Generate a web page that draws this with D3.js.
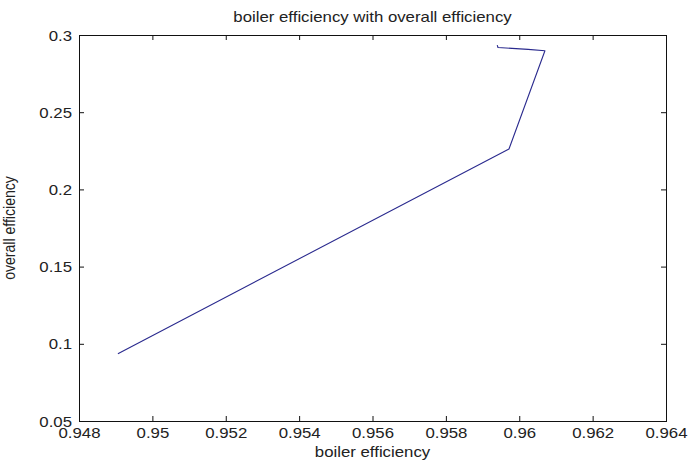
<!DOCTYPE html>
<html>
<head>
<meta charset="utf-8">
<script src="https://cdn.jsdelivr.net/npm/d3@7/dist/d3.min.js"></script>
<style>
  html, body { margin: 0; padding: 0; background: #ffffff; }
  svg { display: block; }
  text { font-family: "Liberation Sans", Arial, sans-serif; fill: #222; }
</style>
</head>
<body>
<svg id="chart" width="688" height="464"></svg>
<script>
// Boiler efficiency against overall plant efficiency
const boilerEff  = [0.95940, 0.95942, 0.96024, 0.96070, 0.95972, 0.94906];
const overallEff = [0.2935, 0.2919, 0.2907, 0.2898, 0.2262, 0.0936];

const xTicks = [0.948, 0.95, 0.952, 0.954, 0.956, 0.958, 0.96, 0.962, 0.964];
const yTicks = [0.05, 0.1, 0.15, 0.2, 0.25, 0.3];

const titleText = "boiler efficiency with overall efficiency";
const xLabelText = "boiler efficiency";
const yLabelText = "overall efficiency";

const W = 688, H = 464;
const plot = { left: 79, right: 666, top: 35, bottom: 421 };
const FONT = 14, SX = 1.2, SY = 1.08;

const svg = d3.select("#chart");
svg.append("rect").attr("width", W).attr("height", H).attr("fill", "#ffffff");

const x = d3.scaleLinear().domain([0.948, 0.964]).range([plot.left, plot.right]);
const y = d3.scaleLinear().domain([0.05, 0.3]).range([plot.bottom, plot.top]);

const fmt = v => String(+v.toFixed(3));
const tick = 5;

// Bottom axis: inward ticks, labels below
const gx = svg.append("g").attr("transform", `translate(0,${plot.bottom})`)
  .call(d3.axisBottom(x).tickValues(xTicks).tickSizeInner(-tick).tickSizeOuter(0).tickFormat(fmt));
gx.select(".domain").remove();
gx.selectAll(".tick line").attr("stroke", "#111");
gx.selectAll(".tick text")
  .attr("y", 0).attr("dy", 0)
  .attr("transform", `translate(0,17) scale(${SX},1)`)
  .attr("font-size", FONT).attr("fill", "#222");

// Top axis: ticks only
const gxt = svg.append("g").attr("transform", `translate(0,${plot.top})`)
  .call(d3.axisTop(x).tickValues(xTicks).tickSizeInner(-tick).tickSizeOuter(0).tickFormat(""));
gxt.select(".domain").remove();
gxt.selectAll(".tick line").attr("stroke", "#111");

// Left axis: inward ticks, labels to the left
const gy = svg.append("g").attr("transform", `translate(${plot.left},0)`)
  .call(d3.axisLeft(y).tickValues(yTicks).tickSizeInner(-tick).tickSizeOuter(0).tickFormat(fmt));
gy.select(".domain").remove();
gy.selectAll(".tick line").attr("stroke", "#111");
gy.selectAll(".tick text")
  .attr("x", 0).attr("dy", 0)
  .attr("transform", `translate(-7,5) scale(${SX},1)`)
  .attr("text-anchor", "end")
  .attr("font-size", FONT).attr("fill", "#222");

// Right axis: ticks only
const gyr = svg.append("g").attr("transform", `translate(${plot.right},0)`)
  .call(d3.axisRight(y).tickValues(yTicks).tickSizeInner(-tick).tickSizeOuter(0).tickFormat(""));
gyr.select(".domain").remove();
gyr.selectAll(".tick line").attr("stroke", "#111");

// Axes box
svg.append("rect")
  .attr("x", plot.left + 0.5).attr("y", plot.top + 0.5)
  .attr("width", plot.right - plot.left).attr("height", plot.bottom - plot.top)
  .attr("fill", "none").attr("stroke", "#111").attr("stroke-width", 1);

// Data line
const pts = boilerEff.map((b, i) => [b, overallEff[i]]);
svg.append("path")
  .datum(pts)
  .attr("fill", "none")
  .attr("stroke", "#2a2a8e")
  .attr("stroke-width", 1.1)
  .attr("stroke-linejoin", "round")
  .attr("d", d3.line().x(d => x(d[0])).y(d => y(d[1])));

// Title and axis labels
const cx = (plot.left + plot.right) / 2;
svg.append("text")
  .attr("transform", `translate(${cx},22) scale(${SX},1)`)
  .attr("text-anchor", "middle").attr("font-size", FONT)
  .text(titleText);

svg.append("text")
  .attr("transform", `translate(${cx},457) scale(${SX},1)`)
  .attr("text-anchor", "middle").attr("font-size", FONT)
  .text(xLabelText);

svg.append("text")
  .attr("transform", `translate(15,${(plot.top + plot.bottom) / 2}) scale(${SX},${SY}) rotate(-90)`)
  .attr("text-anchor", "middle").attr("font-size", FONT * 0.93)
  .text(yLabelText);
</script>
</body>
</html>
